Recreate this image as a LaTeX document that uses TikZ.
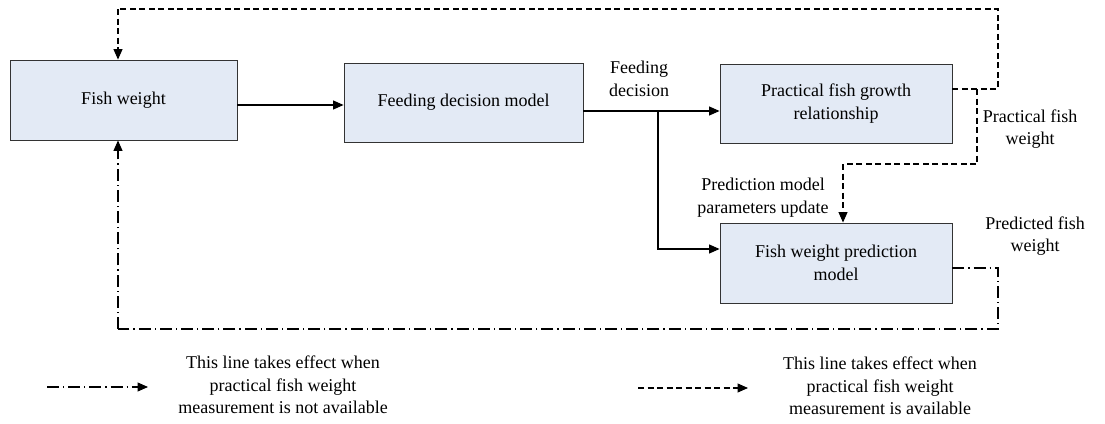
\documentclass[tikz,border=0pt]{standalone}
\usepackage{fontspec}
\setmainfont{Liberation Serif}
\newfontfamily\tnr{Liberation Serif}
\usetikzlibrary{arrows.meta}
\definecolor{boxfill}{RGB}{227,234,245}
\begin{document}
\begin{tikzpicture}[x=1pt,y=-1pt,
  box/.style={draw=black!80, line width=0.9pt, fill=boxfill, align=center, inner sep=0pt,
    font=\tnr\fontsize{18}{22.5}\selectfont},
  lbl/.style={align=center, inner sep=0pt, font=\tnr\fontsize{18}{22.5}\selectfont},
  conn/.style={line width=1.1pt},
  arr/.style={conn, -{Triangle[length=10.5pt,width=9pt]}},
  dsh/.style={dash pattern=on 6pt off 3.5pt},
  dshdot/.style={dash pattern=on 12pt off 4pt on 1.2pt off 4pt}]
\useasboundingbox (0,0) rectangle (1105,423);

\node[box, minimum width=227pt, minimum height=80pt] (fw) at (123.5,100) {Fish weight};
\node[box, minimum width=239pt, minimum height=79pt] (fdm) at (463.5,102.5) {Feeding decision model};
\node[box, minimum width=232pt, minimum height=79pt] (pfg) at (836,103.5) {Practical fish growth\\relationship};
\node[box, minimum width=232pt, minimum height=80pt] (fwp) at (836,263) {Fish weight prediction\\model};

\node[lbl] (lfd) at (639,79) {Feeding\\decision};
\node[lbl] (lpfw) at (1030,129) {Practical fish\\weight};
\node[lbl] (lpmu) at (763,197.5) {Prediction model\\parameters update};
\node[lbl] (lpred) at (1035,236) {Predicted fish\\weight};

% solid connectors
\draw[arr] (fw.east |- 0,105) -- (fdm.west |- 0,105);
\draw[arr] (fdm.east |- 0,111) -- (pfg.west |- 0,111);
\coordinate (br) at (658,111);
\draw[arr] (br) |- (fwp.west |- 0,249);

% dashed feedback
\coordinate (d1) at (998,89);
\coordinate (d2) at (998,9);
\coordinate (d3) at (118,9);
\coordinate (db) at (977,89);
\coordinate (db2) at (977,164);
\coordinate (db3) at (843,164);
\draw[conn, dsh] (pfg.east |- d1) -- (d1) -- (d2) -- (d3);
\draw[arr, dsh] (d3) -- (d3 |- fw.north);
\draw[conn, dsh] (db) -- (db2) -- (db3);
\draw[arr, dsh] (db3) -- (db3 |- fwp.north);

% dash-dot feedback
\coordinate (e1) at (998,268);
\coordinate (e2) at (998,329);
\coordinate (e3) at (118,329);
\draw[conn, dshdot] (fwp.east |- e1) -- (e1) -- (e2) -- (e3);
\draw[arr, dshdot] (e3) -- (e3 |- fw.south);

% legend
\coordinate (la1) at (47,387);
\coordinate (la2) at (148,387);
\draw[arr, dshdot] (la1) -- (la2);
\node[lbl] (lt1) at (283,385) {This line takes effect when\\practical fish weight\\measurement is not available};
\coordinate (lb1) at (638,388);
\coordinate (lb2) at (748,388);
\draw[arr, dsh] (lb1) -- (lb2);
\node[lbl] (lt2) at (880,386) {This line takes effect when\\practical fish weight\\measurement is available};
\end{tikzpicture}
\end{document}
